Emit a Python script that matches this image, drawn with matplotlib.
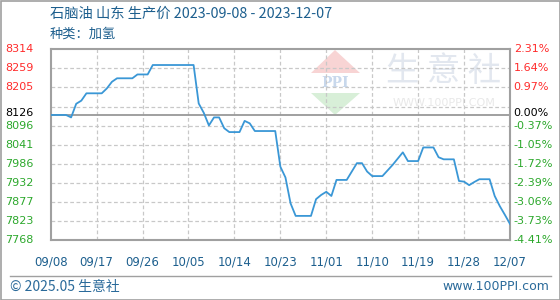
import matplotlib
matplotlib.use("Agg")
import matplotlib.pyplot as plt
import matplotlib.dates as mdates
from matplotlib.patches import Polygon, Rectangle
import pandas as pd

plt.rcParams['font.family'] = ['Noto Sans CJK SC', 'DejaVu Sans']

# price series (yuan/ton)
dates = ["2023-09-08", "2023-09-11", "2023-09-12", "2023-09-13", "2023-09-14", "2023-09-15",
         "2023-09-18", "2023-09-19", "2023-09-20", "2023-09-21", "2023-09-24", "2023-09-25",
         "2023-09-27", "2023-09-28", "2023-10-06", "2023-10-07", "2023-10-08", "2023-10-09",
         "2023-10-10", "2023-10-11", "2023-10-12", "2023-10-13", "2023-10-15", "2023-10-16",
         "2023-10-17", "2023-10-18", "2023-10-22", "2023-10-23", "2023-10-24", "2023-10-25",
         "2023-10-26", "2023-10-29", "2023-10-30", "2023-10-31", "2023-11-01", "2023-11-02",
         "2023-11-03", "2023-11-05", "2023-11-07", "2023-11-08", "2023-11-09", "2023-11-10",
         "2023-11-12", "2023-11-14", "2023-11-16", "2023-11-17", "2023-11-19", "2023-11-20",
         "2023-11-22", "2023-11-23", "2023-11-24", "2023-11-26", "2023-11-27", "2023-11-28",
         "2023-11-29", "2023-11-30", "2023-12-01", "2023-12-03", "2023-12-04", "2023-12-05",
         "2023-12-06", "2023-12-07"]
prices = [8126, 8126, 8119, 8158, 8167, 8188, 8188, 8202, 8221, 8231,
          8231, 8242, 8242, 8269, 8269, 8159, 8132, 8096, 8119, 8119,
          8088, 8077, 8077, 8109, 8102, 8080, 8080, 7978, 7947, 7873,
          7837, 7837, 7885, 7897, 7906, 7894, 7940, 7940, 7988, 7988,
          7964, 7951, 7951, 7983, 8019, 7994, 7994, 8033, 8033, 8005,
          7999, 7999, 7937, 7935, 7925, 7934, 7942, 7942, 7894, 7865,
          7840, 7814]

base = 8126
grid_vals = [8314, 8259.4, 8204.8, 8150.2, 8095.6, 8041, 7986.4, 7931.8, 7877.2, 7822.6, 7768]
left_labels = ["8314", "8259", "8205", "", "8096", "8041", "7986", "7932", "7877", "7823", "7768"]
right_labels = ["2.31%", "1.64%", "0.97%", "", "-0.37%", "-1.05%", "-1.72%", "-2.39%",
                "-3.06%", "-3.73%", "-4.41%"]
tick_dates = ["2023-09-08", "2023-09-17", "2023-09-26", "2023-10-05", "2023-10-14", "2023-10-23",
              "2023-11-01", "2023-11-10", "2023-11-19", "2023-11-28", "2023-12-07"]

title = "石脑油 山东 生产价 2023-09-08 - 2023-12-07"
subtitle = "种类：加氢"

red = "#ff2b2b"
green = "#2ca82c"
blue_txt = "#1d5f8e"

fig = plt.figure(figsize=(5.6, 3.0), dpi=100)

# background layer in pixel coords for frame, texts and watermark
bg = fig.add_axes([0, 0, 1, 1])
bg.set_xlim(0, 560)
bg.set_ylim(300, 0)
bg.axis("off")
bg.add_patch(Rectangle((0.5, 0.5), 559, 299, fill=False, ec="#a0a0a0", lw=1.2))
bg.text(50, 14, title, fontsize=10.3, color=blue_txt, va="center", ha="left")
bg.text(50, 34, subtitle, fontsize=9.5, color=blue_txt, va="center", ha="left")
bg.plot([10, 551], [276, 276], color="#a0a0a0", lw=1)
bg.text(10, 287, "© 2025.05 生意社", fontsize=10, color="#2a6a9a", va="center", ha="left")
bg.text(549, 287, "www.100PPI.com", fontsize=9, color="#2a6a9a", va="center", ha="right",
        family="DejaVu Sans")

# watermark
bg.add_patch(Polygon([[311, 73], [335, 50], [360, 73]], closed=True, fc="#f8d4d4", ec="none"))
bg.add_patch(Polygon([[311, 93], [360, 93], [335, 115]], closed=True, fc="#d8efd8", ec="none"))
bg.text(335, 83, "PPI", fontsize=10, color="#c8d8ec", ha="center", va="center",
        family="DejaVu Serif", fontweight="bold")
bg.text(444, 71, "生 意 社", fontsize=24, color="#e2e7ef", ha="center", va="center")
bg.text(444, 103, "WWW.100PPI.COM", fontsize=8, color="#e8e8e8", ha="center", va="center",
        family="DejaVu Sans")

ax = fig.add_axes([50.7 / 560, 1 - 240 / 300, (510 - 50.7) / 560, (240 - 49.3) / 300])
ax.patch.set_alpha(0)

x = pd.to_datetime(dates)
ax.plot(x, prices, color="#3a97d6", lw=1.3, zorder=3)

ax.set_ylim(grid_vals[-1], grid_vals[0])
ax.set_xlim(pd.Timestamp(tick_dates[0]), pd.Timestamp(tick_dates[-1]))

for v in grid_vals[1:-1]:
    ax.axhline(v, color="#c8c8c8", lw=0.9, ls=(0, (3, 2)), zorder=1)
for d in tick_dates[1:-1]:
    ax.axvline(pd.Timestamp(d), color="#c8c8c8", lw=0.9, ls=(0, (3, 2)), zorder=1)
ax.axhline(base, color="#999999", lw=1.3, zorder=2)

for s in ax.spines.values():
    s.set_color("#a0a0a0")
    s.set_linewidth(1.5)

ax.set_yticks([])
ax.set_xticks(pd.to_datetime(tick_dates))
ax.xaxis.set_major_formatter(mdates.DateFormatter("%m/%d"))
ax.tick_params(axis="x", length=0, pad=11, labelsize=8.5, labelcolor=blue_txt)
for lbl in ax.get_xticklabels():
    lbl.set_fontfamily("DejaVu Sans")

ytr = ax.get_yaxis_transform()
fs = 8
for v, ll, rl in zip(grid_vals, left_labels, right_labels):
    c = red if v > base else green
    if ll:
        ax.text(-0.1, v, ll, transform=ytr, color=c, fontsize=fs, ha="left", va="center",
                family="DejaVu Sans", clip_on=False)
    if rl:
        ax.text(1.008, v, rl, transform=ytr, color=c, fontsize=fs, ha="left", va="center",
                family="DejaVu Sans", clip_on=False)
ax.text(-0.1, base + 5, "8126", transform=ytr, color="black", fontsize=fs, ha="left", va="center",
        family="DejaVu Sans", clip_on=False)
ax.text(1.008, base + 5, "0.00%", transform=ytr, color="black", fontsize=fs, ha="left", va="center",
        family="DejaVu Sans", clip_on=False)

fig.savefig("out.png", dpi=100)
